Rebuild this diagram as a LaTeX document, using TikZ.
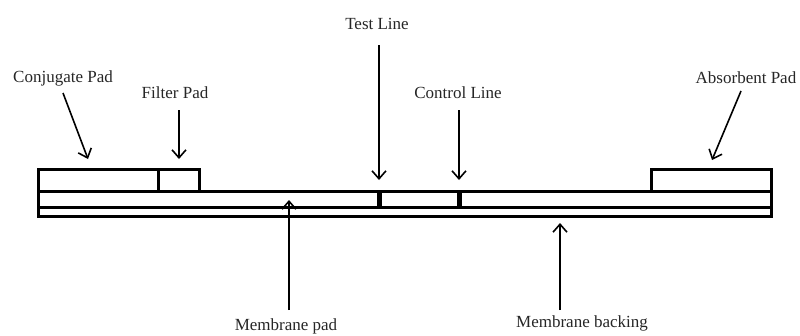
\documentclass[tikz,border=0pt]{standalone}
\usepackage{fontspec}
\setmainfont{Liberation Serif}
\usetikzlibrary{arrows.meta}
\begin{document}
\begin{tikzpicture}[x=1pt,y=-1pt,
  part/.style={draw, line width=3pt, rectangle, inner sep=0pt, outer sep=0pt},
  linemark/.style={fill=black, draw=none, rectangle, inner sep=0pt, outer sep=0pt, minimum width=5pt, minimum height=17pt},
  lbl/.style={font=\fontsize{17}{20}\selectfont, inner sep=0pt, text=black!85},
  ptr/.style={line width=1.6pt, -{Straight Barb[length=8pt,width=14pt,line width=1.6pt]}}]
\useasboundingbox (0,0) rectangle (800,335);
% strip
\node[part, minimum width=733pt, minimum height=9pt] (backing) at (404.5,211.5) {};
\node[part, minimum width=733pt, minimum height=16pt] (membrane) at (404.5,199) {};
\node[part, minimum width=120pt, minimum height=22pt] (conj) at (98,180) {};
\node[part, minimum width=41pt, minimum height=22pt] (filter) at (178.5,180) {};
\node[part, minimum width=120pt, minimum height=22pt] (absorb) at (711,180) {};
\node[linemark] (testmark) at (379,199) {};
\node[linemark] (ctrlmark) at (459,199) {};
% labels
\node[lbl] (ltest) at (377,24) {Test Line};
\node[lbl] (lconj) at (63,78) {Conjugate Pad};
\node[lbl] (lfilter) at (175,93) {Filter Pad};
\node[lbl] (lctrl) at (458,93) {Control Line};
\node[lbl] (labs) at (746,78) {Absorbent Pad};
\node[lbl] (lmem) at (286,326) {Membrane pad};
\node[lbl] (lback) at (582,323) {Membrane backing};
% arrow endpoints
\coordinate (sTest) at (379,45);   \coordinate (eTest) at (379,180);
\coordinate (sConj) at (63,93);    \coordinate (eConj) at (88,159);
\coordinate (sFil) at (179,110);   \coordinate (eFil) at (179,159);
\coordinate (sCtrl) at (459,110);  \coordinate (eCtrl) at (459,180);
\coordinate (sAbs) at (741,91);    \coordinate (eAbs) at (712,160);
\coordinate (sMem) at (289,310);   \coordinate (eMem) at (289,200);
\coordinate (sBack) at (560,310);  \coordinate (eBack) at (560,223);
\draw[ptr] (sTest) -- (eTest);
\draw[ptr] (sConj) -- (eConj);
\draw[ptr] (sFil) -- (eFil);
\draw[ptr] (sCtrl) -- (eCtrl);
\draw[ptr] (sAbs) -- (eAbs);
\draw[ptr] (sMem) -- (eMem);
\draw[ptr] (sBack) -- (eBack);
\end{tikzpicture}
\end{document}
